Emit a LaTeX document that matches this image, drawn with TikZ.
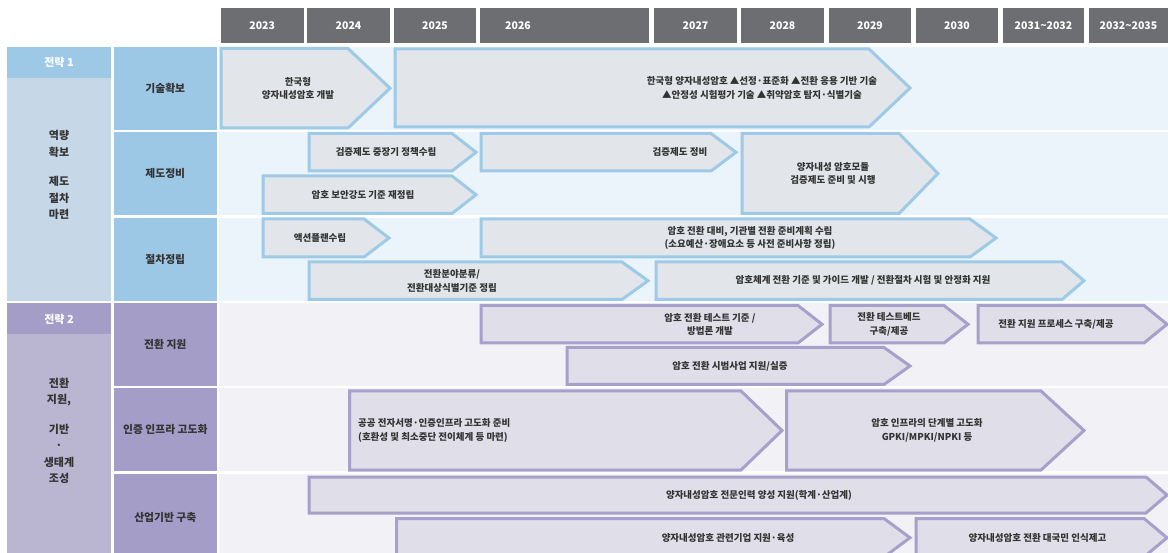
\documentclass[tikz,border=0pt]{standalone}
\usepackage{fontspec}
\setmainfont{Noto Sans CJK KR}
\definecolor{hdrgray}{HTML}{6D6E71}
\definecolor{sonehead}{HTML}{9DC9E6}
\definecolor{sonebody}{HTML}{C6D8E8}
\definecolor{sonelab}{HTML}{9DC8E5}
\definecolor{sonebg}{HTML}{EBF4FB}
\definecolor{sonefill}{HTML}{E2E6EA}
\definecolor{soneline}{HTML}{9ECAE7}
\definecolor{stwohead}{HTML}{A49DC8}
\definecolor{stwobody}{HTML}{BAB5D0}
\definecolor{stwolab}{HTML}{A39DC8}
\definecolor{stwobg}{HTML}{F2F1F6}
\definecolor{stwofill}{HTML}{E0DEE9}
\definecolor{stwoline}{HTML}{A7A0CB}
\definecolor{txt}{HTML}{333333}
\newcommand\chev[9]{%
  \path[#1] (#3,#6) -- (#4,#6) -- (#5,{(#6+#7)/2}) -- (#4,#7) -- (#3,#7) -- cycle;
  \node[atext,#2] at (#8,{(#6+#7)/2}) {#9};
}
\begin{document}
\begin{tikzpicture}[x=1pt,y=-1pt,
  hdr/.style={text=white,font=\bfseries\fontsize{10.5}{12}\selectfont},
  atext/.style={text=txt,align=center,inner sep=0pt,font=\bfseries\fontsize{9.5}{13.5}\selectfont},
  labtext/.style={text=txt,align=center,inner sep=0pt,font=\bfseries\fontsize{10.8}{13}\selectfont},
  strtext/.style={text=txt,align=center,inner sep=0pt,font=\bfseries\fontsize{11}{16.5}\selectfont},
  strhead/.style={text=white,inner sep=0pt,font=\bfseries\fontsize{11}{13}\selectfont},
  chone/.style={fill=sonefill,draw=soneline,line width=3pt,line join=miter},
  chtwo/.style={fill=stwofill,draw=stwoline,line width=3pt,line join=miter}]
\useasboundingbox (0,0) rectangle (1168,553);
% header
\foreach \a/\b/\c/\t [count=\i] in {221/303.5/262.2/2023, 307/390/348.5/2024, 394/476/435/2025,
  479.5/649/518/2026, 654/737/695.5/2027, 741/824/782.5/2028, 829/911/870/2029,
  916/998/957/2030, 1003/1084/1043.5/2031\textasciitilde 2032, 1089/1168/1128.5/2032\textasciitilde 2035}{
  \fill[hdrgray] (\a,8.5) rectangle (\b,43.3);
  \node[hdr] (y\i) at (\c,26) {\t};
}
% strategy columns
\fill[sonehead] (7,47) rectangle (111,78.3);
\fill[sonebody] (7,78.3) rectangle (111,301);
\fill[stwohead] (7,303) rectangle (111,334.5);
\fill[stwobody] (7,334.5) rectangle (111,560);
\node[strhead] (s1h) at (59,62.5) {전략 1};
\node[strhead] (s2h) at (59,319) {전략 2};
\node[strtext] (s1t) at (59,175) {역량\\확보\\[13pt]제도\\절차\\마련};
\node[strtext] (s2t) at (59,431) {전환\\지원,\\[13pt]기반\\·\\생태계\\조성};
% row labels and backgrounds
\foreach \ya/\yb/\lc/\bc/\t [count=\i] in {47/130/sonelab/sonebg/기술확보, 132.3/215/sonelab/sonebg/제도정비,
  217.7/301/sonelab/sonebg/절차정립, 303/385.8/stwolab/stwobg/전환 지원,
  388.5/471/stwolab/stwobg/인증 인프라 고도화, 474/560/stwolab/stwobg/산업기반 구축}{
  \fill[\lc] (113.7,\ya) rectangle (217,\yb);
  \fill[\bc] (219,\ya) rectangle (1168,\yb);
  \node[labtext] (r\i) at (165.3,{(\ya+\yb)/2}) {\t};
}
% strategy 1 arrows
\chev{chone}{name=a}{221}{348}{390}{48.5}{128}{298}{한국형\\양자내성암호 개발}
\chev{chone}{name=b}{395}{869}{910}{49}{127}{762}{한국형 양자내성암호 ▲선정·표준화 ▲전환 응용 기반 기술\\▲안정성 시험평가 기술 ▲취약암호 탐지·식별기술}
\chev{chone}{name=c}{309}{452}{476}{133.5}{171}{386}{검증제도 중장기 정책수립}
\chev{chone}{name=d}{263}{452}{476}{176}{213.5}{363}{암호 보안강도 기준 재정립}
\chev{chone}{name=e}{481}{711}{736}{133.5}{171}{680}{검증제도 정비}
\chev{chone}{name=f}{742}{899}{938}{133.5}{213.5}{833}{양자내성 암호모듈\\검증제도 준비 및 시행}
\chev{chone}{name=g}{263}{364}{389}{219}{257}{320}{액션플랜수립}
\chev{chone}{name=h}{481}{970}{996}{219}{257}{750}{암호 전환 대비, 기관별 전환 준비계획 수립\\(소요예산·장애요소 등 사전 준비사항 정립)}
\chev{chone}{name=i}{309}{622}{648}{262}{299.5}{452}{전환분야분류/\\전환대상식별기준 정립}
\chev{chone}{name=j}{656}{1062}{1084}{262}{299.5}{863}{암호체계 전환 기준 및 가이드 개발 / 전환절차 시험 및 안정화 지원}
% strategy 2 arrows
\chev{chtwo}{name=k}{481}{798}{822}{305.5}{343}{710}{암호 전환 테스트 기준 /\\방법론 개발}
\chev{chtwo}{name=l}{830}{944}{968}{305.5}{343}{889}{전환 테스트베드\\구축/제공}
\chev{chtwo}{name=m}{978}{1144}{1167}{305.5}{343}{1056}{전환 지원 프로세스 구축/제공}
\chev{chtwo}{name=n}{567}{884}{910}{347.5}{384.5}{730}{암호 전환 시범사업 지원/실증}
\chev{chtwo}{name=o,anchor=west,align=left}{349.5}{741}{782}{391}{470}{358}{공공 전자서명·인증인프라 고도화 준비\\(호환성 및 최소중단 전이체계 등 마련)}
\chev{chtwo}{name=p}{786.5}{1041}{1084}{391}{470}{927}{암호 인프라의 단계별 고도화\\GPKI/MPKI/NPKI 등}
\chev{chtwo}{name=q}{309}{1146}{1167}{477}{513}{759}{양자내성암호 전문인력 양성 지원(학계·산업계)}
\chev{chtwo}{name=r}{396.5}{884}{910}{518.5}{557}{728}{양자내성암호 관련기업 지원·육성}
\chev{chtwo}{name=s}{916}{1144}{1167}{518.5}{557}{1037.5}{양자내성암호 전환 대국민 인식제고}
\end{tikzpicture}
\end{document}
